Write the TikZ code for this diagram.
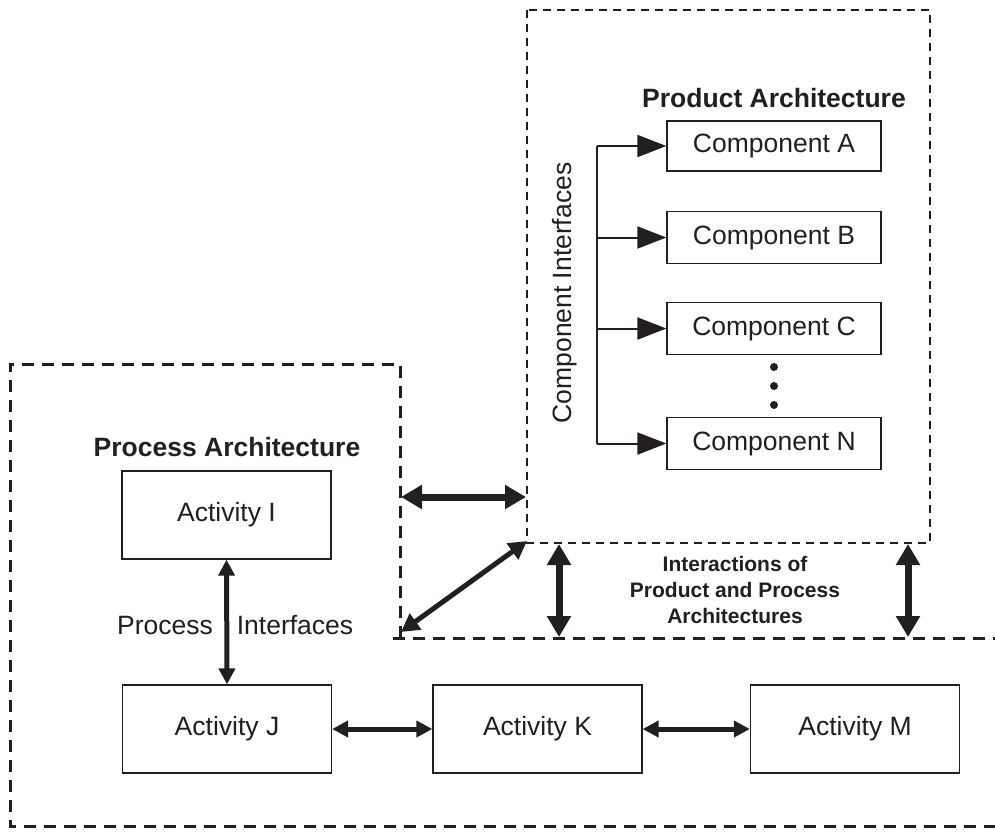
\documentclass[tikz,border=0pt]{standalone}
\usepackage{fontspec}
\setmainfont{Liberation Sans}
\usetikzlibrary{arrows.meta}
\definecolor{ink}{HTML}{231F20}
\newcommand{\txtfont}{\fontsize{26.5}{32}\selectfont}
\newcommand{\ttlfont}{\fontsize{26.5}{32}\selectfont\bfseries}
\newcommand{\intfont}{\fontsize{21}{26}\selectfont\bfseries}
\begin{document}
\begin{tikzpicture}[x=1pt,y=-1pt,
  every node/.style={text=ink},
  actbox/.style={draw=ink, line width=1.3pt, minimum width=209pt, minimum height=88pt, inner sep=0pt, font=\txtfont},
  compbox/.style={draw=ink, line width=1.3pt, minimum width=214pt, minimum height=52pt, inner sep=0pt, font=\txtfont},
  procdash/.style={draw=ink, line width=3pt, dash pattern=on 12pt off 8pt},
  proddash/.style={draw=ink, line width=2pt, dash pattern=on 8pt off 6pt},
  bigarrow/.style={draw=ink, line width=7pt, {Triangle[length=21pt,width=23pt]}-{Triangle[length=21pt,width=23pt]}},
  actarrow/.style={draw=ink, line width=5pt, {Triangle[length=16pt,width=16pt]}-{Triangle[length=16pt,width=16pt]}},
  comparrow/.style={draw=ink, line width=2pt, -{Triangle[length=29pt,width=22pt]}},
  dot/.style={circle, fill=ink, inner sep=0pt, minimum size=8pt}
]
\useasboundingbox (0,0) rectangle (995,831);

% dashed regions
\coordinate (pt1) at (10,364);
\coordinate (pt2) at (400,364);
\coordinate (pt3) at (400,638);
\coordinate (pt4) at (393,638);
\coordinate (pt5) at (995,638);
\coordinate (pt6) at (10,826);
\coordinate (pt7) at (995,826);
\draw[procdash] (pt3) -- (pt2) -- (pt1) -- (pt6) -- (pt7);
\draw[procdash] (pt4) -- (pt5);
\draw[proddash] (527,10) rectangle (930,543);

% titles
\node[font=\ttlfont] (proctitle) at (227,447) {Process Architecture};
\node[font=\ttlfont] (prodtitle) at (774,98) {Product Architecture};

% activities
\node[actbox] (actI) at (226.5,515) {Activity I};
\node[actbox] (actJ) at (227,729) {Activity J};
\node[actbox] (actK) at (537.5,729) {Activity K};
\node[actbox] (actM) at (855,729) {Activity M};

\draw[actarrow] (actI.south) -- (actJ.north);
\draw[actarrow] (actJ.east) -- (actK.west);
\draw[actarrow] (actK.east) -- (actM.west);

\node[font=\txtfont] (plbl) at (165,625) {Process};
\node[font=\txtfont] (ilbl) at (295,625) {Interfaces};

% components
\node[compbox, minimum height=50pt] (cA) at (774,146) {Component A};
\node[compbox] (cB) at (774,237.5) {Component B};
\node[compbox] (cC) at (774,328.5) {Component C};
\node[compbox] (cN) at (774,443.5) {Component N};
\node[dot] (d1) at (774,367) {};
\node[dot] (d2) at (774,386) {};
\node[dot] (d3) at (774,405) {};

\coordinate (bus1) at (597,146);
\coordinate (bus2) at (597,237.5);
\coordinate (bus3) at (597,328.5);
\coordinate (bus4) at (597,443.5);
\draw[draw=ink, line width=2pt] (bus1) -- (bus4);
\draw[comparrow] (bus1) -- (cA.west);
\draw[comparrow] (bus2) -- (cB.west);
\draw[comparrow] (bus3) -- (cC.west);
\draw[comparrow] (bus4) -- (cN.west);
\node[font=\txtfont, rotate=90] (cilbl) at (565,293) {Component Interfaces};

% interactions
\coordinate (h1) at (401,497);
\coordinate (h2) at (526,497);
\coordinate (g1) at (401,632);
\coordinate (g2) at (527,541);
\coordinate (v1a) at (559,544);
\coordinate (v1b) at (559,637);
\coordinate (v2a) at (908,544);
\coordinate (v2b) at (908,637);
\draw[bigarrow] (h1) -- (h2);
\draw[bigarrow, line width=5pt, {Triangle[length=18pt,width=19pt]}-{Triangle[length=18pt,width=19pt]}] (g1) -- (g2);
\draw[bigarrow] (v1a) -- (v1b);
\draw[bigarrow] (v2a) -- (v2b);
\node[font=\intfont, align=center] (intlbl) at (735,590) {Interactions of\\Product and Process\\Architectures};
\end{tikzpicture}
\end{document}
